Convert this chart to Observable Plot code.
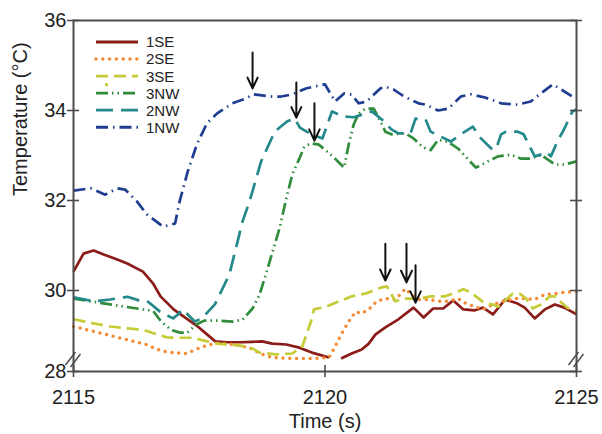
<!DOCTYPE html>
<html><head><meta charset="utf-8">
<script src="https://cdn.jsdelivr.net/npm/d3@7"></script>
<script src="https://cdn.jsdelivr.net/npm/@observablehq/plot@0.6"></script>
<style>
body{margin:0;background:#fff;}
#wrap{position:relative;width:602px;height:434px;font-family:"Liberation Sans",Arial,sans-serif;}
#overlay{position:absolute;left:0;top:0;pointer-events:none;}
</style></head><body><div id="wrap"></div>
<script>
// ---- data ----
const seriesNames = ["1SE","2SE","3SE","3NW","2NW","1NW"];
const seriesColors = ["#8b1c17","#f58a34","#c6cc38","#2f8c3a","#23898b","#1f3e92"];
const seriesDash = [null,"0 6.8","12 6","12 4 1.5 4 1.5 4","17 8","12 5 1.5 5"];

const s1SE = [[2115,30.42],[2115.2,30.82],[2115.4,30.89],[2115.6,30.8],[2115.87,30.69],[2116.07,30.6],[2116.38,30.42],[2116.58,30.16],[2116.73,29.87],[2116.99,29.58],[2117.27,29.36],[2117.47,29.2],[2117.66,29.02],[2117.82,28.87],[2118.04,28.85],[2118.32,28.85],[2118.56,28.86],[2118.75,28.87],[2118.95,28.82],[2119.23,28.8],[2119.49,28.73],[2119.74,28.62],[2120.08,28.51],[2120.2,null],[2120.32,28.49],[2120.53,28.6],[2120.73,28.69],[2120.87,28.82],[2121.0,29.02],[2121.2,29.18],[2121.46,29.36],[2121.76,29.62],[2121.96,29.4],[2122.15,29.6],[2122.35,29.6],[2122.55,29.78],[2122.75,29.58],[2122.98,29.56],[2123.14,29.62],[2123.34,29.47],[2123.58,29.8],[2123.83,29.71],[2123.97,29.62],[2124.17,29.38],[2124.37,29.58],[2124.57,29.69],[2124.76,29.62],[2125,29.47]];
const s2SE = [[2115,29.2],[2115.4,29.09],[2115.8,28.98],[2116.19,28.87],[2116.45,28.8],[2116.65,28.7],[2116.86,28.63],[2117.25,28.6],[2117.45,28.7],[2117.65,28.78],[2117.85,28.83],[2118.24,28.8],[2118.56,28.7],[2118.7,28.6],[2118.95,28.51],[2119.43,28.49],[2119.74,28.49],[2120.08,28.51],[2120.18,28.71],[2120.32,29.02],[2120.47,29.31],[2120.61,29.53],[2120.73,29.49],[2120.87,29.58],[2121.03,29.76],[2121.2,29.82],[2121.4,29.8],[2121.6,30.04],[2121.7,29.93],[2121.86,29.8],[2122.06,29.8],[2122.25,29.76],[2122.45,29.76],[2122.65,29.82],[2122.8,29.71],[2122.98,29.64],[2123.14,29.58],[2123.34,29.69],[2123.54,29.76],[2123.77,29.82],[2123.97,29.82],[2124.17,29.8],[2124.37,29.91],[2124.57,29.93],[2124.76,29.96],[2125,29.98]];
const s3SE = [[2115,29.36],[2115.4,29.27],[2115.73,29.2],[2116.07,29.16],[2116.38,29.13],[2116.59,29.05],[2116.85,28.96],[2117.1,28.95],[2117.35,28.95],[2117.62,28.88],[2117.85,28.82],[2118.1,28.8],[2118.35,28.77],[2118.56,28.71],[2118.7,28.62],[2119.03,28.58],[2119.35,28.6],[2119.55,28.76],[2119.72,29.31],[2119.78,29.58],[2120.02,29.64],[2120.28,29.76],[2120.53,29.87],[2120.8,29.93],[2121.13,30.07],[2121.23,30.09],[2121.4,29.76],[2121.6,29.82],[2121.86,29.82],[2122.1,29.87],[2122.39,29.87],[2122.65,29.98],[2122.75,30.03],[2122.9,29.96],[2123.0,29.87],[2123.18,29.71],[2123.34,29.69],[2123.44,29.64],[2123.58,29.78],[2123.73,29.93],[2123.87,29.93],[2124.0,29.82],[2124.13,29.6],[2124.29,29.69],[2124.47,29.87],[2124.59,29.87],[2124.72,29.71],[2124.86,29.58],[2125,29.55]];
const s3NW = [[2115,29.82],[2115.4,29.75],[2115.73,29.69],[2116.26,29.6],[2116.58,29.55],[2116.75,29.3],[2116.95,29.12],[2117.1,29.07],[2117.25,29.05],[2117.45,29.25],[2117.6,29.33],[2117.85,29.33],[2118.16,29.31],[2118.36,29.35],[2118.56,29.6],[2118.7,29.91],[2118.9,30.64],[2119.1,31.4],[2119.23,32.04],[2119.35,32.58],[2119.49,32.93],[2119.59,33.2],[2119.72,33.27],[2119.88,33.24],[2120.04,33.09],[2120.2,32.93],[2120.38,32.73],[2120.47,33.24],[2120.57,33.69],[2120.67,33.93],[2120.8,34.04],[2120.97,34.04],[2121.1,33.76],[2121.2,33.53],[2121.32,33.47],[2121.6,33.49],[2121.76,33.38],[2121.95,33.18],[2122.1,33.12],[2122.25,33.35],[2122.45,33.3],[2122.65,33.15],[2122.79,32.98],[2123.0,32.73],[2123.24,32.87],[2123.44,32.98],[2123.7,33.02],[2123.9,32.93],[2124.09,32.93],[2124.29,33.02],[2124.57,32.8],[2124.76,32.8],[2125,32.87]];
const s2NW = [[2115,29.85],[2115.4,29.76],[2115.73,29.8],[2116.07,29.86],[2116.3,29.78],[2116.46,29.77],[2116.72,29.53],[2116.98,29.38],[2117.08,29.47],[2117.17,29.58],[2117.41,29.31],[2117.55,29.38],[2117.81,29.69],[2118.1,30.36],[2118.36,31.53],[2118.5,31.98],[2118.73,32.87],[2119.0,33.53],[2119.25,33.76],[2119.4,33.82],[2119.5,33.62],[2119.7,33.49],[2119.95,33.38],[2120.14,33.98],[2120.34,33.87],[2120.57,33.85],[2120.8,33.93],[2120.93,33.98],[2121.13,33.8],[2121.32,33.58],[2121.46,33.49],[2121.7,33.49],[2121.8,33.82],[2122.0,33.8],[2122.1,33.53],[2122.3,33.42],[2122.5,33.31],[2122.7,33.47],[2122.94,33.64],[2123.1,33.38],[2123.3,33.16],[2123.4,33.14],[2123.5,33.47],[2123.6,33.53],[2123.83,33.53],[2123.95,33.47],[2124.07,33.2],[2124.17,32.98],[2124.29,33.02],[2124.4,33.08],[2124.49,32.98],[2124.62,33.31],[2124.76,33.6],[2124.92,33.98],[2125,34.02]];
const s1NW = [[2115,32.22],[2115.34,32.27],[2115.63,32.13],[2115.87,32.27],[2116.03,32.24],[2116.26,31.98],[2116.46,31.69],[2116.78,31.42],[2117.02,31.49],[2117.11,31.98],[2117.27,32.64],[2117.45,33.24],[2117.65,33.71],[2117.85,33.93],[2118.16,34.16],[2118.44,34.27],[2118.56,34.36],[2118.95,34.31],[2119.13,34.31],[2119.35,34.36],[2119.62,34.49],[2119.78,34.53],[2120.0,34.58],[2120.2,34.2],[2120.38,34.38],[2120.53,34.35],[2120.67,34.16],[2120.83,34.2],[2120.93,34.31],[2121.1,34.49],[2121.2,34.53],[2121.36,34.47],[2121.52,34.35],[2121.7,34.24],[2121.86,34.16],[2122.0,34.13],[2122.25,34.0],[2122.45,34.04],[2122.7,34.31],[2122.9,34.36],[2123.18,34.29],[2123.5,34.16],[2123.83,34.13],[2124.09,34.2],[2124.29,34.38],[2124.53,34.58],[2124.69,34.47],[2124.92,34.31],[2125,34.3]];
const seriesData = [s1SE, s2SE, s3SE, s3NW, s2NW, s1NW];

const arrowT   = [2118.56, 2119.43, 2119.79, 2121.2, 2121.62, 2121.8];
const arrowTop = [35.29, 34.62, 34.16, 31.04, 31.04, 30.56];
const arrowTip = [34.49, 33.84, 33.33, 30.22, 30.18, 29.73];

const xDomain = [2115, 2125];
const xTicks = [2115, 2120, 2125];
const xTickLabels = ["2115", "2120", "2125"];
const yDomain = [28.2, 36];
const yTicks = [28.2, 30, 32, 34, 36];
const yTickLabels = ["28", "30", "32", "34", "36"];
const xLabel = "Time (s)";
const yLabel = "Temperature (°C)";

// ---- chart ----
const axisColor = "#4d4d4d";
const font = "'Liberation Sans', Arial, sans-serif";
const fs = 20;
const arrows = arrowT.map((t, i) => ({t, top: arrowTop[i], tip: arrowTip[i]}));

const plot = Plot.plot({
  width: 602, height: 434,
  marginLeft: 73, marginRight: 26, marginTop: 20, marginBottom: 63,
  style: {fontFamily: font, background: "#fff", color: "#222", overflow: "visible"},
  x: {domain: xDomain, label: null},
  y: {domain: yDomain, label: null},
  marks: [
    ...seriesData.map((s, k) => Plot.line(s, {
      x: d => d[0], y: d => d[1],
      stroke: seriesColors[k], strokeWidth: k === 1 ? 3.5 : 2.7,
      strokeDasharray: seriesDash[k],
      strokeLinecap: k === 1 ? "round" : "butt",
      strokeLinejoin: "round",
      curve: "linear"
    })),
    Plot.arrow(arrows, {x1: "t", x2: "t", y1: "top", y2: "tip", stroke: "#111", strokeWidth: 2, headLength: 11, headAngle: 50}),
    Plot.frame({stroke: axisColor, strokeWidth: 2}),
    Plot.ruleX(xTicks, {x: d => d, y1: () => yDomain[0], y2: () => yDomain[0], insetTop: -6, insetBottom: -6, stroke: axisColor, strokeWidth: 1.6}),
    Plot.ruleY(yTicks, {y: d => d, x1: () => xDomain[0], x2: () => xDomain[0], insetLeft: -6, insetRight: -6, stroke: axisColor, strokeWidth: 1.6}),
    Plot.ruleY(yTicks, {y: d => d, x1: () => xDomain[1], x2: () => xDomain[1], insetLeft: -6, insetRight: -6, stroke: axisColor, strokeWidth: 1.6}),
    Plot.axisX({ticks: xTicks, tickSize: 0, tickPadding: 18, tickFormat: d => xTickLabels[xTicks.indexOf(d)], fontSize: fs, label: null}),
    Plot.axisY({ticks: yTicks, tickSize: 0, tickPadding: 7, tickFormat: d => yTickLabels[yTicks.indexOf(d)], fontSize: fs, label: null}),
    Plot.text([xLabel], {frameAnchor: "bottom", dy: 56, text: d => d, fontSize: fs, fill: "#222"}),
    Plot.text([yLabel], {frameAnchor: "left", dx: -53, rotate: -90, text: d => d, fontSize: fs, fill: "#222"})
  ]
});
const wrap = document.getElementById("wrap");
wrap.appendChild(plot);

// ---- overlay: legend and axis break marks ----
const sx = plot.scale("x"), sy = plot.scale("y");
const svg = d3.select(wrap).append("svg").attr("id", "overlay").attr("width", 602).attr("height", 434);
const legendX = 96, legendY = 42, legendStep = 17.05;
seriesNames.forEach((name, k) => {
  const y = legendY + k * legendStep;
  svg.append("line").attr("x1", legendX).attr("x2", legendX + 42).attr("y1", y).attr("y2", y)
    .attr("stroke", seriesColors[k]).attr("stroke-width", k === 1 ? 3.5 : 2.8)
    .attr("stroke-dasharray", seriesDash[k]).attr("stroke-linecap", k === 1 ? "round" : "butt");
  svg.append("text").attr("x", legendX + 50).attr("y", y).attr("dy", "0.36em")
    .attr("font-family", font).attr("font-size", 15).attr("fill", "#222").text(name);
});
svg.append("rect").attr("x", legendX + 9).attr("y", legendY + 2 * legendStep + 7).attr("width", 3).attr("height", 3).attr("fill", seriesColors[2]);

[xDomain[0], xDomain[1]].forEach(xv => {
  const px = sx.apply(xv), py = sy.apply(yDomain[0]) - 12;
  [-2.5, 2.5].forEach(o => {
    svg.append("line").attr("x1", px - 5 + o).attr("y1", py + 7 + o * 0.4).attr("x2", px + 5 + o).attr("y2", py - 6 + o * 0.4)
      .attr("stroke", axisColor).attr("stroke-width", 1.5);
  });
});
</script></body></html>
